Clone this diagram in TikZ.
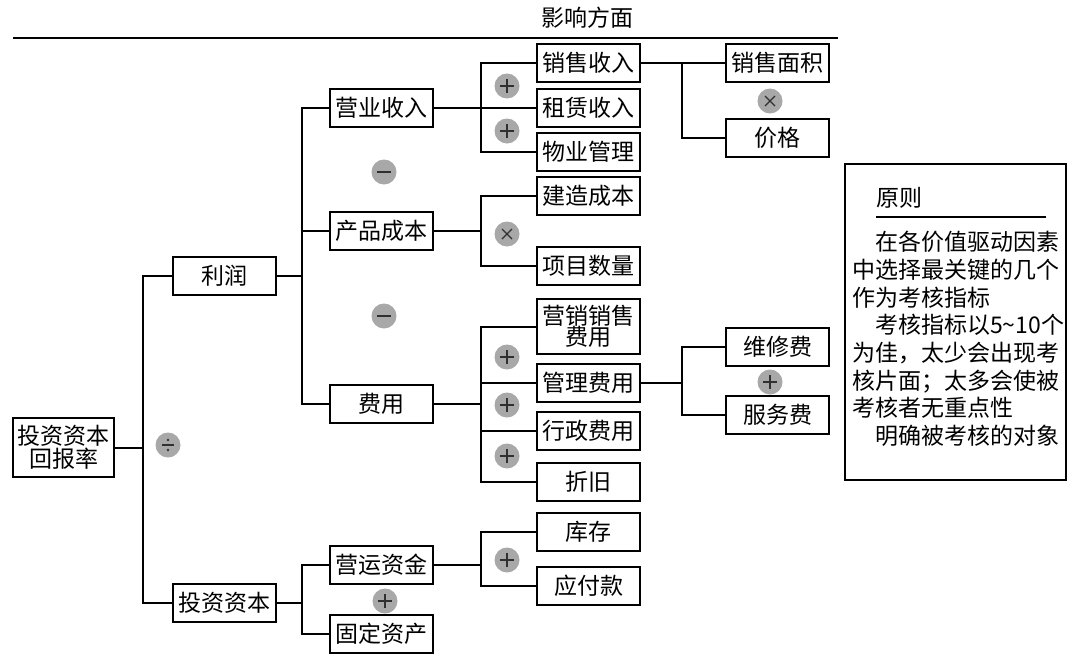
\documentclass[tikz,border=0pt]{standalone}
\usepackage{fontspec}
\setmainfont{Noto Sans CJK SC}
\definecolor{opgray}{HTML}{A8A8A8}
\definecolor{opsym}{HTML}{303030}
\tikzset{
  box/.style={draw, line width=2pt, minimum width=103pt, minimum height=38pt, inner sep=0pt, font=\fontsize{23}{26}\selectfont, align=center},
  conn/.style={line width=2pt},
  opbase/.style={circle, fill=opgray, minimum size=25pt, inner sep=0pt},
  opplus/.style={opbase, path picture={
     \draw[opsym, line width=1.1pt] ([xshift=-7pt]path picture bounding box.center) -- ([xshift=7pt]path picture bounding box.center);
     \draw[opsym, line width=1.1pt] ([yshift=-7pt]path picture bounding box.center) -- ([yshift=7pt]path picture bounding box.center);}},
  opminus/.style={opbase, path picture={
     \draw[opsym, line width=1.1pt] ([xshift=-7pt]path picture bounding box.center) -- ([xshift=7pt]path picture bounding box.center);}},
  optimes/.style={opbase, path picture={
     \draw[opsym, line width=1.1pt] ([shift={(-5pt,-5pt)}]path picture bounding box.center) -- ([shift={(5pt,5pt)}]path picture bounding box.center);
     \draw[opsym, line width=1.1pt] ([shift={(-5pt,5pt)}]path picture bounding box.center) -- ([shift={(5pt,-5pt)}]path picture bounding box.center);}},
  opdiv/.style={opbase, path picture={
     \draw[opsym, line width=1.1pt] ([xshift=-6pt]path picture bounding box.center) -- ([xshift=6pt]path picture bounding box.center);
     \fill[opsym] ([yshift=5pt]path picture bounding box.center) circle (1.4pt);
     \fill[opsym] ([yshift=-5pt]path picture bounding box.center) circle (1.4pt);}},
  txt/.style={font=\fontsize{23}{27.7}\selectfont, inner sep=0pt}
}
\begin{document}
\begin{tikzpicture}[x=1pt,y=-1pt]
\useasboundingbox (0,0) rectangle (1080,662);
% title
\node[txt] (title) at (587,18) {影响方面};
\coordinate (tl) at (13,38);
\coordinate (tr) at (838,38);
\draw[line width=1.8pt] (tl) -- (tr);

% boxes
\node[box, minimum width=101pt, minimum height=59pt] (root) at (63.5,447.5) {投资资本\\[-3pt]回报率};
\node[box] (lirun) at (224,276) {利润};
\node[box] (touzi) at (224,603) {投资资本};
\node[box] (yingye) at (381,108) {营业收入};
\node[box] (chanpin) at (381,231) {产品成本};
\node[box] (feiyong) at (381,404) {费用};
\node[box] (yingyun) at (381,565) {营运资金};
\node[box] (guding) at (381,634) {固定资产};
\node[box] (xiaoshou) at (588.5,62.5) {销售收入};
\node[box] (zulin) at (588.5,108) {租赁收入};
\node[box] (wuye) at (588.5,152) {物业管理};
\node[box] (jianzao) at (588.5,196) {建造成本};
\node[box] (xiangmu) at (588.5,266) {项目数量};
\node[box, minimum height=55pt] (yingxiao) at (588.5,326.5) {营销销售\\[-5pt]费用};
\node[box] (guanli) at (588.5,383) {管理费用};
\node[box] (xingzheng) at (588.5,431) {行政费用};
\node[box] (zhejiu) at (588.5,482) {折旧};
\node[box] (kucun) at (588.5,532) {库存};
\node[box] (yingfu) at (588.5,586) {应付款};
\node[box] (mianji) at (777.5,62.5) {销售面积};
\node[box] (jiage) at (777.5,138) {价格};
\node[box] (weixiu) at (777.5,347) {维修费};
\node[box] (fuwu) at (777.5,415) {服务费};

% junctions
\coordinate (j1) at (142.5,447.5);
\coordinate (j2) at (301.5,276);
\coordinate (j3) at (481,108);
\coordinate (j4) at (481,231);
\coordinate (j5) at (481,404);
\coordinate (j6) at (682,62.5);
\coordinate (j7) at (682,383);
\coordinate (j8) at (481,565);
\coordinate (j9) at (301.5,603);

% connectors
\draw[conn] (lirun.west) -| (j1) |- (touzi.west);
\draw[conn] (root.east) -- (j1);
\draw[conn] (yingye.west) -| (j2) |- (feiyong.west);
\draw[conn] (chanpin.west) -- (chanpin.west -| j2);
\draw[conn] (lirun.east) -- (j2);
\draw[conn] (xiaoshou.west) -| (j3) |- (wuye.west);
\draw[conn] (zulin.west) -- (zulin.west -| j3);
\draw[conn] (yingye.east) -- (j3);
\draw[conn] (jianzao.west) -| (j4) |- (xiangmu.west);
\draw[conn] (chanpin.east) -- (j4);
\draw[conn] (yingxiao.west) -| (j5) |- (zhejiu.west);
\draw[conn] (guanli.west) -- (guanli.west -| j5);
\draw[conn] (xingzheng.west) -- (xingzheng.west -| j5);
\draw[conn] (feiyong.east) -- (j5);
\draw[conn] (xiaoshou.east) -- (mianji.west);
\draw[conn] (j6) |- (jiage.west);
\draw[conn] (weixiu.west) -| (j7) |- (fuwu.west);
\draw[conn] (guanli.east) -- (j7);
\draw[conn] (kucun.west) -| (j8) |- (yingfu.west);
\draw[conn] (yingyun.east) -- (j8);
\draw[conn] (yingyun.west) -| (j9) |- (guding.west);
\draw[conn] (touzi.east) -- (j9);

% operators
\node[opdiv] (od1) at (168,445) {};
\node[opminus] (om1) at (384,172) {};
\node[opminus] (om2) at (384,316) {};
\node[opplus] (op1) at (507,86) {};
\node[opplus] (op2) at (507,131) {};
\node[optimes] (ot1) at (507,234) {};
\node[opplus] (op3) at (507,357) {};
\node[opplus] (op4) at (507,405) {};
\node[opplus] (op5) at (507,456) {};
\node[optimes] (ot2) at (770,101) {};
\node[opplus] (op6) at (770,382) {};
\node[opplus] (op7) at (507,560) {};
\node[opplus] (op8) at (385,601) {};

% principle box
\node[draw, line width=2pt, minimum width=221pt, minimum height=316pt, inner sep=0pt] (prin) at (955.5,322) {};
\node[txt, anchor=west] (ptitle) at (876,198) {原则};
\coordinate (ul) at (876,217);
\coordinate (ur) at (1046,217);
\draw[line width=1.6pt] (ul) -- (ur);
\node[txt, anchor=north west, align=left] (pbody) at (852,231) {\hspace*{23pt}在各价值驱动因素\\中选择最关键的几个\\作为考核指标\\\hspace*{23pt}考核指标以5\textasciitilde10个\\为佳，太少会出现考\\核片面；太多会使被\\考核者无重点性\\\hspace*{23pt}明确被考核的对象};
\end{tikzpicture}
\end{document}
